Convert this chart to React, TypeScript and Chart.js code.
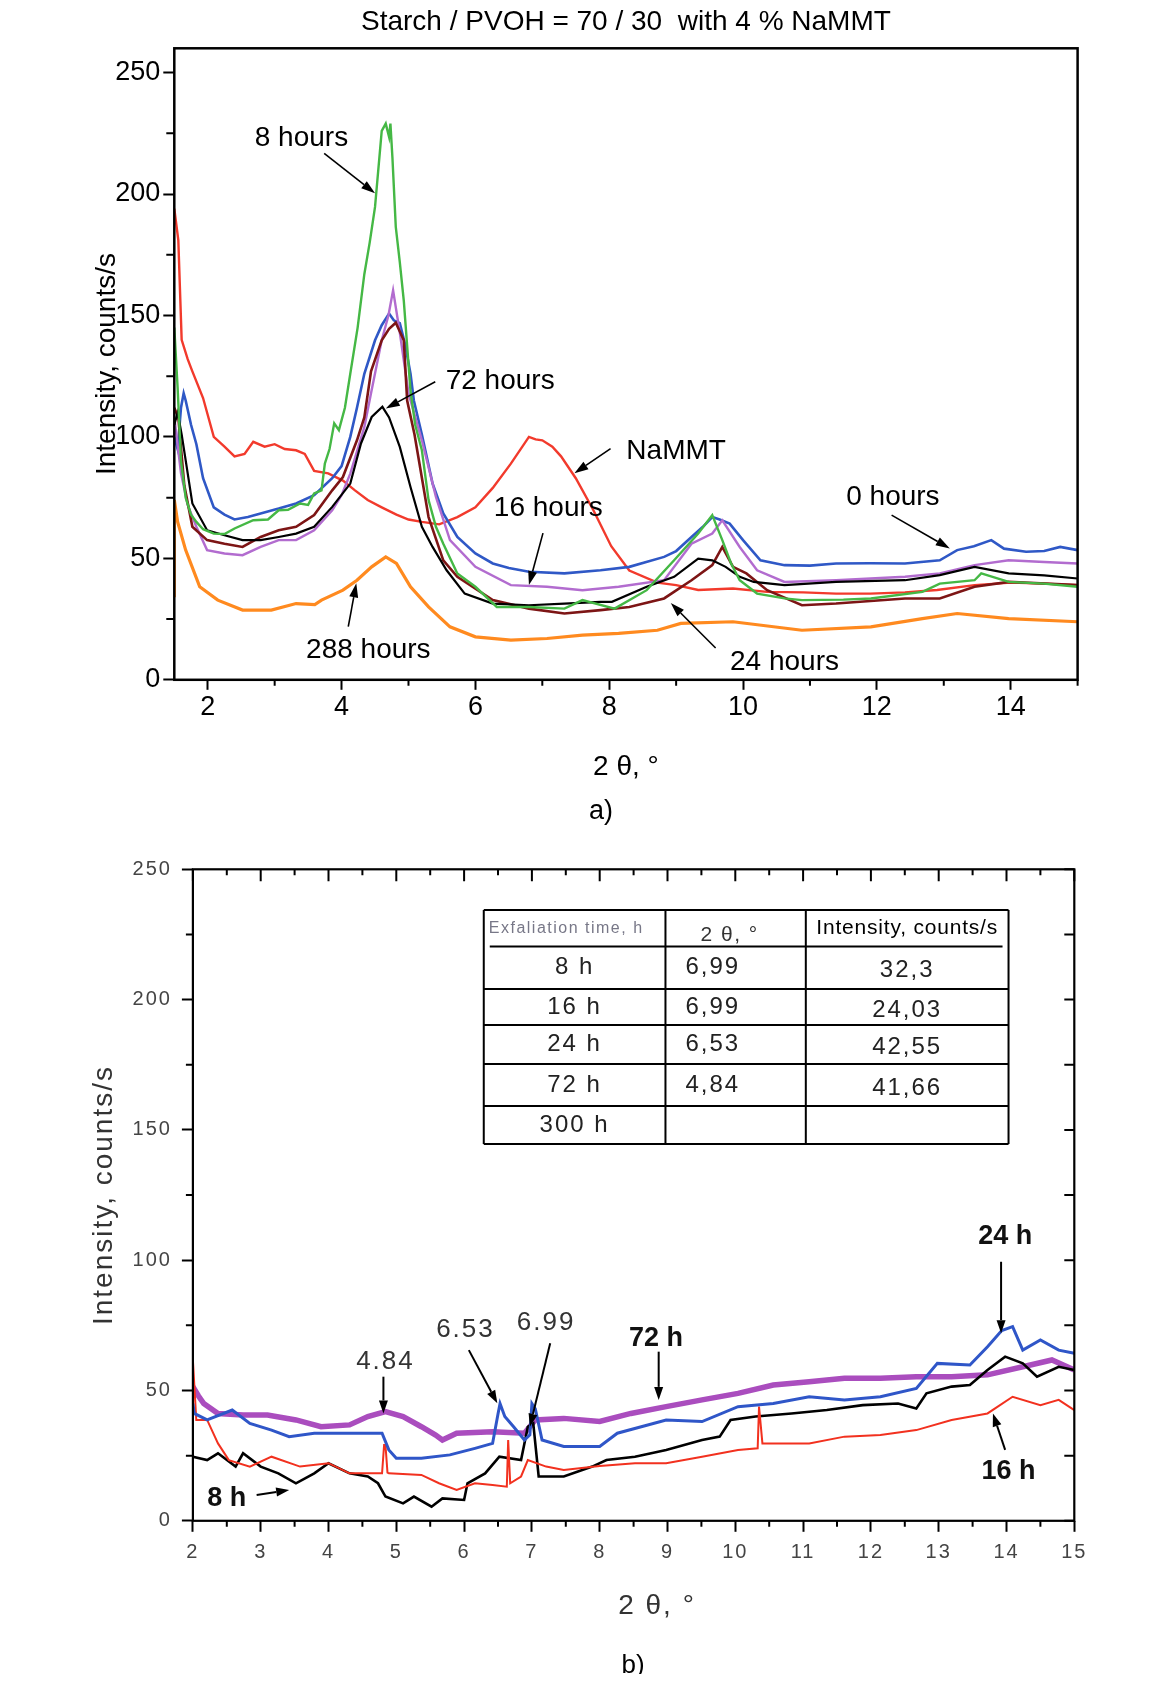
import React, { useEffect, useRef } from "react";
import { Chart, registerables } from "chart.js";

Chart.register(...registerables);

const FONT = "'Liberation Sans', Arial, Helvetica, sans-serif";

/* ---------------- Panel a data ---------------- */
const aTitle = "Starch / PVOH = 70 / 30  with 4 % NaMMT";
const aXTicks = [2, 4, 6, 8, 10, 12, 14];
const aYTicks = [0, 50, 100, 150, 200, 250];
const aXMinor = [3, 5, 7, 9, 11, 13, 15];
const aYMinor = [25, 75, 125, 175, 225];

const aNaMMTx = [1.5, 1.56, 1.61, 1.7, 1.77, 1.93, 2.09, 2.25, 2.4, 2.55, 2.68, 2.85, 3.0, 3.15, 3.32, 3.45, 3.59, 3.8, 4.02, 4.2, 4.39, 4.6, 4.82, 5.0, 5.2, 5.46, 5.73, 6.0, 6.26, 6.53, 6.8, 6.9, 7.0, 7.15, 7.28, 7.5, 7.76, 8.03, 8.3, 8.72, 9.0, 9.33, 9.85, 10.36, 10.9, 11.39, 11.9, 12.42, 12.9, 13.46, 14.0, 14.49, 15.0];
const aNaMMTy = [194, 181, 140, 132, 127, 116, 100, 96, 92, 93, 98, 96, 97, 95, 94.5, 93, 86, 85, 82, 78, 74, 71, 68, 66, 65, 64, 67, 71, 79, 89, 100, 99, 98.6, 96, 92, 83, 70, 55, 45, 40, 39, 37, 37.6, 36.2, 36, 35.5, 35.5, 36, 37, 39, 40, 39.6, 39];

const a0hx = [1.5, 1.55, 1.6, 1.64, 1.67, 1.75, 1.83, 1.93, 2.09, 2.25, 2.4, 2.6, 2.79, 3.06, 3.32, 3.59, 3.86, 4.0, 4.13, 4.23, 4.34, 4.5, 4.6, 4.71, 4.78, 4.87, 4.95, 5.03, 5.08, 5.2, 5.36, 5.52, 5.73, 6.0, 6.26, 6.5, 6.8, 7.33, 7.87, 8.3, 8.82, 9.0, 9.23, 9.4, 9.54, 9.65, 9.8, 10.0, 10.26, 10.62, 11.0, 11.39, 11.9, 12.42, 12.94, 13.2, 13.45, 13.71, 13.9, 14.23, 14.5, 14.74, 15.0];
const a0hy = [100, 95, 112, 118, 115, 105, 97, 83, 71, 68, 66, 67, 68.5, 70.5, 72.6, 76, 83, 88, 100, 112, 126, 139.8, 146, 150.8, 148, 146.8, 138, 126, 115, 101, 80.8, 68.5, 58.8, 52, 47.9, 46, 44.5, 43.8, 45.1, 46.5, 50.6, 53, 58.8, 63, 67, 66, 64.3, 57.5, 49.2, 47.2, 47, 47.9, 48, 47.9, 49.2, 53.4, 55, 57.5, 54, 52.7, 53, 54.7, 53.4];

const a8hx = [1.5, 1.55, 1.6, 1.67, 1.75, 1.83, 1.93, 2.09, 2.25, 2.4, 2.68, 2.9, 3.06, 3.2, 3.38, 3.5, 3.59, 3.7, 3.75, 3.82, 3.89, 3.96, 4.05, 4.13, 4.24, 4.34, 4.42, 4.5, 4.6, 4.66, 4.71, 4.73, 4.76, 4.81, 4.87, 4.93, 5.03, 5.1, 5.2, 5.3, 5.41, 5.52, 5.73, 6.0, 6.32, 6.8, 7.33, 7.6, 8.08, 8.56, 8.97, 9.33, 9.54, 9.69, 9.82, 9.95, 10.21, 10.62, 10.88, 11.5, 11.91, 12.68, 12.94, 13.46, 13.56, 13.97, 14.49, 15.0];
const a8hy = [145, 120, 90, 75, 68, 65, 62, 60.2, 60, 62.3, 65.7, 66, 69.8, 70, 72.6, 72, 76.7, 78, 89, 95, 105.6, 102.8, 112, 126, 145, 167, 180, 194.7, 226, 229, 223.5, 229, 215, 186.5, 172, 156, 119, 105, 94.5, 74, 63, 56, 43.8, 38.3, 30, 30, 29.3, 32.8, 29.3, 36.9, 49.2, 60.2, 67.8, 57.5, 48, 41, 35.5, 33.5, 32.8, 33, 33.5, 36.2, 39.6, 41, 43.8, 40.3, 39.6, 38.3];

const a16hx = [1.5, 1.6, 1.7, 1.83, 1.99, 2.25, 2.52, 2.79, 3.06, 3.32, 3.59, 3.86, 4.0, 4.13, 4.34, 4.44, 4.6, 4.7, 4.77, 4.87, 5.0, 5.2, 5.41, 5.62, 6.0, 6.53, 7.07, 7.6, 8.14, 8.82, 9.23, 9.54, 9.69, 9.95, 10.21, 10.62, 11.39, 12.42, 12.94, 13.46, 13.97, 14.5, 15.0];
const a16hy = [108, 85, 72, 63, 53.4, 52, 51.3, 54.7, 57.5, 57.5, 61.6, 69.8, 76, 84.9, 104, 118, 139.8, 150, 160.4, 143, 118, 98.6, 75.3, 57.5, 46.5, 39, 38.3, 36.9, 38.3, 41, 56, 60.2, 65.7, 54.7, 45.1, 40.3, 41, 42.4, 43.8, 47.2, 49.2, 48.5, 47.9];

const a24hx = [1.5, 1.56, 1.65, 1.77, 1.99, 2.25, 2.52, 2.79, 3.06, 3.32, 3.59, 3.86, 4.02, 4.23, 4.34, 4.44, 4.6, 4.71, 4.81, 4.93, 4.98, 5.09, 5.3, 5.52, 5.73, 6.26, 6.8, 7.33, 7.87, 8.3, 8.82, 9.23, 9.54, 9.69, 9.85, 10.05, 10.36, 10.88, 11.39, 12.42, 12.94, 13.46, 13.97, 15.0];
const a24hy = [112, 108, 80, 63, 57.5, 56, 54.7, 58.8, 61.6, 63, 67.8, 78, 83.5, 98.6, 108, 127, 139.8, 144.5, 147, 139.8, 115, 101, 67, 49.2, 42.4, 32.8, 29.3, 27.3, 28.7, 30, 33.5, 41, 47.2, 54.7, 46.5, 43.8, 36.9, 30.7, 31.4, 33.5, 33.5, 38.3, 40.3, 39];

const a72hx = [1.5, 1.55, 1.61, 1.77, 1.99, 2.25, 2.52, 2.79, 3.06, 3.32, 3.59, 3.86, 4.13, 4.29, 4.45, 4.61, 4.71, 4.87, 5.03, 5.2, 5.36, 5.57, 5.84, 6.26, 6.8, 7.33, 7.87, 8.04, 8.56, 8.97, 9.33, 9.54, 9.74, 9.95, 10.16, 10.62, 11.39, 12.42, 12.94, 13.46, 13.97, 14.5, 15.0];
const a72hy = [105, 110, 101, 72.6, 61.6, 59.5, 57.5, 57.5, 58.8, 60.2, 63, 71.2, 80.8, 97.3, 108.2, 112.4, 108, 95.9, 79.4, 63, 54.7, 45.1, 35.5, 31.4, 30.7, 31.4, 32.1, 32.1, 38.3, 42.4, 49.9, 49.2, 46.5, 42.4, 40.3, 39, 40.3, 41, 43.1, 46.5, 43.8, 43, 41.7];

const a288hx = [1.5, 1.5, 1.55, 1.67, 1.88, 2.15, 2.52, 2.95, 3.32, 3.6, 3.7, 4.02, 4.23, 4.45, 4.66, 4.82, 5.03, 5.3, 5.62, 6.0, 6.53, 7.07, 7.6, 8.14, 8.72, 9.07, 9.85, 10.88, 11.91, 12.68, 13.2, 13.97, 15.0];
const a288hy = [34, 74, 65, 53.4, 38.3, 32.8, 28.7, 28.7, 31.4, 31, 32.8, 36.9, 41, 46.5, 50.6, 47.9, 38.3, 30, 21.8, 17.7, 16.3, 17, 18.4, 19.1, 20.4, 23.2, 23.9, 20.4, 21.8, 25.2, 27.3, 25.2, 23.9];

const aNotes = [
  { text: "8 hours", tx: 3.4, ty: 222.8, x1: 3.74, y1: 216.7, x2: 4.5, y2: 200.3 },
  { text: "72 hours", tx: 6.37, ty: 122.7, x1: 5.4, y1: 122.7, x2: 4.66, y2: 111.7 },
  { text: "NaMMT", tx: 9.0, ty: 93.9, x1: 8.02, y1: 95.2, x2: 7.48, y2: 85 },
  { text: "16 hours", tx: 7.09, ty: 70.6, x1: 7.01, y1: 60.4, x2: 6.8, y2: 39 },
  { text: "0 hours", tx: 12.24, ty: 75.3, x1: 12.22, y1: 67.8, x2: 13.09, y2: 54.1 },
  { text: "24 hours", tx: 10.62, ty: 7.4, x1: 9.59, y1: 13.1, x2: 8.92, y2: 31.6 },
  { text: "288 hours", tx: 4.4, ty: 12.3, x1: 4.1, y1: 21.9, x2: 4.22, y2: 39.7 },
];

/* ---------------- Panel b data ---------------- */
const bXTicks = [2, 3, 4, 5, 6, 7, 8, 9, 10, 11, 12, 13, 14, 15];
const bYTicks = [0, 50, 100, 150, 200, 250];
const bXMinor = [2.5, 3.5, 4.5, 5.5, 6.5, 7.5, 8.5, 9.5, 10.5, 11.5, 12.5, 13.5, 14.5];
const bYMinor = [25, 75, 125, 175, 225];

const b72hx = [2.0, 2.08, 2.16, 2.37, 2.74, 3.1, 3.52, 3.89, 4.31, 4.58, 4.84, 5.1, 5.37, 5.58, 5.68, 5.89, 6.42, 6.89, 7.05, 7.47, 8.0, 8.46, 8.98, 9.51, 10.04, 10.56, 11.09, 11.61, 12.14, 12.67, 13.19, 13.72, 14.24, 14.67, 15.0];
const b72hy = [51.5, 48, 45, 41.2, 40.6, 40.6, 38.7, 36.1, 36.8, 40, 41.9, 40, 36.1, 32.9, 31, 33.6, 34.2, 33.6, 38.7, 39.3, 38.1, 41.2, 43.8, 46.4, 48.9, 52.1, 53.4, 54.7, 54.7, 55.3, 55.3, 56, 59.1, 61.7, 57.9];

const b24hx = [2.0, 2.02, 2.21, 2.58, 2.84, 3.16, 3.42, 3.79, 4.21, 4.58, 4.79, 4.89, 5.0, 5.37, 5.79, 6.16, 6.42, 6.5, 6.53, 6.6, 6.73, 6.89, 6.97, 7.0, 7.05, 7.15, 7.47, 8.0, 8.26, 8.98, 9.51, 10.04, 10.56, 11.09, 11.61, 12.14, 12.67, 12.98, 13.46, 13.72, 13.93, 14.09, 14.24, 14.5, 14.77, 15.0];
const b24hy = [45, 41.2, 38.7, 42.5, 37.4, 34.8, 32.3, 33.6, 33.6, 33.6, 33.6, 27.2, 24, 24, 25.3, 27.8, 29.7, 41, 45, 40, 36.1, 31, 33, 45, 43, 31, 28.5, 28.5, 33.6, 38.7, 38.1, 43.8, 45, 47.6, 46.4, 47.6, 50.8, 60.4, 59.8, 66.8, 73, 74.5, 65.5, 69.4, 65.5, 64.3];

const b16hx = [2.0, 2.0, 2.05, 2.21, 2.37, 2.53, 2.84, 3.16, 3.58, 4.0, 4.31, 4.79, 4.82, 4.84, 4.87, 4.89, 5.37, 5.63, 5.89, 6.16, 6.42, 6.63, 6.65, 6.68, 6.84, 6.94, 7.21, 7.47, 8.0, 8.52, 8.98, 9.51, 10.04, 10.33, 10.35, 10.4, 11.09, 11.61, 12.14, 12.67, 13.19, 13.72, 14.09, 14.5, 14.77, 15.0];
const b16hy = [40, 61.7, 38.7, 38.7, 29.7, 23.3, 20.8, 24.6, 20.8, 22.1, 18.2, 18.2, 29.1, 29.1, 18.5, 18.2, 17.6, 14.4, 11.8, 14.4, 13.7, 13.1, 31, 14.4, 17, 23.3, 20.8, 19.5, 21, 22.1, 22.1, 24.6, 27.2, 27.8, 43.8, 29.7, 29.7, 32.3, 32.9, 34.8, 38.7, 41.2, 47.6, 44.4, 46.4, 42.5];

const b8hx = [2.0, 2.21, 2.37, 2.63, 2.74, 3.0, 3.26, 3.52, 3.79, 4.0, 4.31, 4.58, 4.73, 4.84, 5.1, 5.26, 5.52, 5.68, 6.0, 6.05, 6.31, 6.52, 6.84, 6.94, 7.02, 7.1, 7.47, 7.89, 8.1, 8.52, 8.98, 9.51, 9.77, 9.93, 10.3, 10.83, 11.35, 11.88, 12.4, 12.67, 12.82, 13.19, 13.46, 13.72, 13.98, 14.24, 14.45, 14.77, 15.0];
const b8hy = [24.6, 23.3, 25.9, 20.8, 25.9, 20.8, 18.2, 14.4, 18.2, 22.1, 18.2, 17, 14.4, 9.3, 6.7, 9.3, 5.4, 8.6, 8, 14.4, 18.2, 24.6, 23.3, 36.1, 37.4, 17, 17, 20.8, 23.3, 24.6, 27.2, 31, 32.3, 38.7, 40, 41.2, 42.5, 44.4, 45, 43.1, 48.9, 51.5, 52.1, 57.9, 63, 60.4, 55.3, 59.1, 57.9];

const bNotes = [
  { text: "4.84", bold: false, tx: 4.84, ty: 61, x1: 4.81, y1: 55.3, x2: 4.81, y2: 41.2 },
  { text: "6.53", bold: false, tx: 6.02, ty: 73.2, x1: 6.07, y1: 65.5, x2: 6.49, y2: 45.1 },
  { text: "6.99", bold: false, tx: 7.21, ty: 75.8, x1: 7.27, y1: 68.1, x2: 6.97, y2: 36.1 },
  { text: "72 h", bold: true, tx: 8.83, ty: 70, x1: 8.87, y1: 64.9, x2: 8.87, y2: 46.4 },
  { text: "24 h", bold: true, tx: 13.98, ty: 109, x1: 13.92, y1: 99.4, x2: 13.92, y2: 72 },
  { text: "16 h", bold: true, tx: 14.03, ty: 18.8, x1: 13.98, y1: 27.2, x2: 13.8, y2: 41.2 },
  { text: "8 h", bold: true, tx: 2.5, ty: 8.6, x1: 2.94, y1: 9.9, x2: 3.42, y2: 11.8 },
];

const tHeader = ["Exfaliation time, h", "2 θ, °", "Intensity, counts/s"];
const tTime = ["8 h", "16 h", "24 h", "72 h", "300 h"];
const tAngle = ["6,99", "6,99", "6,53", "4,84", ""];
const tIntensity = ["32,3", "24,03", "42,55", "41,66", ""];

/* ---------------- helpers ---------------- */
const pts = (xs: number[], ys: number[]) => xs.map((x, i) => ({ x, y: ys[i] }));

function drawArrow(ctx: CanvasRenderingContext2D, x1: number, y1: number, x2: number, y2: number, head: number, width: number, lw: number, color: string) {
  const ang = Math.atan2(y2 - y1, x2 - x1);
  const bx = x2 - head * Math.cos(ang);
  const by = y2 - head * Math.sin(ang);
  ctx.save();
  ctx.strokeStyle = color;
  ctx.fillStyle = color;
  ctx.lineWidth = lw;
  ctx.beginPath();
  ctx.moveTo(x1, y1);
  ctx.lineTo(bx, by);
  ctx.stroke();
  ctx.beginPath();
  ctx.moveTo(x2, y2);
  ctx.lineTo(bx + (width / 2) * Math.sin(ang), by - (width / 2) * Math.cos(ang));
  ctx.lineTo(bx - (width / 2) * Math.sin(ang), by + (width / 2) * Math.cos(ang));
  ctx.closePath();
  ctx.fill();
  ctx.restore();
}

function ticksX(ctx: CanvasRenderingContext2D, sx: any, vals: number[], yBase: number, len: number, lw: number) {
  ctx.beginPath();
  ctx.lineWidth = lw;
  vals.forEach((v) => {
    const px = sx.getPixelForValue(v);
    ctx.moveTo(px, yBase);
    ctx.lineTo(px, yBase + len);
  });
  ctx.stroke();
}
function ticksY(ctx: CanvasRenderingContext2D, sy: any, vals: number[], xBase: number, len: number, lw: number) {
  ctx.beginPath();
  ctx.lineWidth = lw;
  vals.forEach((v) => {
    const py = sy.getPixelForValue(v);
    ctx.moveTo(xBase, py);
    ctx.lineTo(xBase + len, py);
  });
  ctx.stroke();
}

const mk = (label: string, xs: number[], ys: number[], color: string, w: number) => ({
  label,
  data: pts(xs, ys),
  borderColor: color,
  backgroundColor: color,
  borderWidth: w,
  pointRadius: 0,
  tension: 0,
  fill: false,
});

/* ---------------- Panel a ---------------- */
function PanelA() {
  const ref = useRef<HTMLCanvasElement | null>(null);
  useEffect(() => {
    if (!ref.current) return;
    const decor = {
      id: "decorA",
      afterDraw(chart: any) {
        const { ctx, chartArea: ca, scales } = chart;
        const sx = scales.x;
        const sy = scales.y;
        ctx.save();
        ctx.strokeStyle = "#000";
        ctx.lineWidth = 2.5;
        ctx.strokeRect(ca.left, ca.top, ca.right - ca.left, ca.bottom - ca.top);
        ticksX(ctx, sx, aXMinor, ca.bottom, 6, 2);
        ticksY(ctx, sy, aYMinor, ca.left, -8, 2);
        ctx.fillStyle = "#000";
        ctx.textAlign = "center";
        ctx.textBaseline = "middle";
        ctx.font = `28px ${FONT}`;
        ctx.fillText(aTitle, (ca.left + ca.right) / 2, 22);
        ctx.font = `27px ${FONT}`;
        ctx.fillText("a)", 601, 812);
        ctx.font = `28px ${FONT}`;
        aNotes.forEach((n) => {
          ctx.fillText(n.text, sx.getPixelForValue(n.tx), sy.getPixelForValue(n.ty));
          drawArrow(ctx, sx.getPixelForValue(n.x1), sy.getPixelForValue(n.y1), sx.getPixelForValue(n.x2), sy.getPixelForValue(n.y2), 14, 9, 1.6, "#000");
        });
        ctx.restore();
      },
    };
    const chart = new Chart(ref.current, {
      type: "line",
      data: {
        datasets: [
          mk("8 hours", a8hx, a8hy, "#45b845", 2.4),
          mk("72 hours", a72hx, a72hy, "#000000", 2.2),
          mk("24 hours", a24hx, a24hy, "#7d1515", 2.6),
          mk("16 hours", a16hx, a16hy, "#b26ccf", 2.4),
          mk("0 hours", a0hx, a0hy, "#2f58c6", 2.6),
          mk("NaMMT", aNaMMTx, aNaMMTy, "#f23a2c", 2.4),
          mk("288 hours", a288hx, a288hy, "#ff8a1f", 3.2),
        ],
      },
      options: {
        responsive: false,
        animation: false,
        events: [],
        layout: { padding: { top: 48.3, left: 80, right: 86.4, bottom: 30.2 } },
        plugins: { legend: { display: false }, tooltip: { enabled: false }, title: { display: false } },
        scales: {
          x: {
            type: "linear",
            min: 1.5,
            max: 15,
            afterBuildTicks: (s: any) => {
              s.ticks = aXTicks.map((v) => ({ value: v }));
            },
            afterFit: (s: any) => {
              s.height = 130;
            },
            border: { display: false },
            grid: { drawOnChartArea: false, drawTicks: true, tickLength: 10, tickWidth: 2, tickColor: "#000" },
            ticks: { font: { family: FONT, size: 27 }, color: "#000", padding: 2, maxRotation: 0, autoSkip: false },
            title: { display: true, text: "2 θ, °", font: { family: FONT, size: 28 }, color: "#000", padding: { top: 0, bottom: 26 } },
          },
          y: {
            type: "linear",
            min: 0,
            max: 260,
            afterBuildTicks: (s: any) => {
              s.ticks = aYTicks.map((v) => ({ value: v }));
            },
            afterFit: (s: any) => {
              s.width = 94.3;
            },
            border: { display: false },
            grid: { drawOnChartArea: false, drawTicks: true, tickLength: 11, tickWidth: 2, tickColor: "#000" },
            ticks: { font: { family: FONT, size: 27 }, color: "#000", padding: 3 },
            title: { display: true, text: "Intensity, counts/s", font: { family: FONT, size: 28 }, color: "#000", padding: { top: 10.2, bottom: 0 } },
          },
        },
      },
      plugins: [decor],
    } as any);
    return () => chart.destroy();
  }, []);
  return <canvas ref={ref} width={1164} height={840} style={{ position: "absolute", left: 0, top: 0, display: "block" }} />;
}

/* ---------------- Panel b ---------------- */
function PanelB() {
  const ref = useRef<HTMLCanvasElement | null>(null);
  useEffect(() => {
    if (!ref.current) return;
    const decor = {
      id: "decorB",
      beforeDraw(chart: any) {
        (chart.ctx as any).letterSpacing = "2px";
      },
      afterDraw(chart: any) {
        const { ctx, chartArea: ca, scales } = chart;
        const sx = scales.x;
        const sy = scales.y;
        const X = (v: number) => sx.getPixelForValue(v);
        const Y = (v: number) => sy.getPixelForValue(v);
        ctx.save();
        ctx.strokeStyle = "#000";
        ctx.lineWidth = 2.2;
        ctx.strokeRect(ca.left, ca.top, ca.right - ca.left, ca.bottom - ca.top);
        ticksX(ctx, sx, bXMinor, ca.bottom, 6, 2);
        ticksX(ctx, sx, bXTicks, ca.top, 12, 2);
        ticksX(ctx, sx, bXMinor, ca.top, 6, 2);
        ticksY(ctx, sy, bYMinor, ca.left, -7, 2);
        ticksY(ctx, sy, bYTicks, ca.right, -10, 2);
        ticksY(ctx, sy, bYMinor, ca.right, -10, 2);

        // table
        const tl = X(6.29), c1 = X(8.97), c2 = X(11.04), tr = X(14.03);
        const rows = [234.4, 220.4, 204.1, 190.3, 175.3, 159.2, 144.6].map(Y);
        ctx.lineWidth = 2;
        ctx.beginPath();
        rows.forEach((ry, i) => {
          const inset = i === 1 ? 6 : 0;
          ctx.moveTo(tl + inset, ry);
          ctx.lineTo(tr - inset, ry);
        });
        [tl, c1, c2, tr].forEach((cx) => {
          ctx.moveTo(cx, rows[0]);
          ctx.lineTo(cx, rows[6]);
        });
        ctx.stroke();
        ctx.textBaseline = "middle";
        const hy = (rows[0] + rows[1]) / 2;
        (ctx as any).letterSpacing = "1.5px";
        ctx.textAlign = "left";
        ctx.font = `16px ${FONT}`;
        ctx.fillStyle = "#777787";
        ctx.fillText(tHeader[0], tl + 5, hy);
        ctx.textAlign = "center";
        ctx.font = `21px ${FONT}`;
        ctx.fillStyle = "#333";
        ctx.fillText(tHeader[1], (c1 + c2) / 2 - 6, hy + 7);
        (ctx as any).letterSpacing = "0.8px";
        ctx.font = `21px ${FONT}`;
        ctx.fillStyle = "#000";
        ctx.fillText(tHeader[2], (c2 + tr) / 2, hy);
        (ctx as any).letterSpacing = "2px";
        ctx.font = `24px ${FONT}`;
        ctx.fillStyle = "#222";
        for (let i = 0; i < tTime.length; i++) {
          const cy = (rows[i + 1] + rows[i + 2]) / 2;
          ctx.textAlign = "center";
          ctx.fillText(tTime[i], (tl + c1) / 2, cy);
          ctx.textAlign = "left";
          ctx.fillText(tAngle[i], c1 + 20, cy);
          ctx.textAlign = "center";
          ctx.fillText(tIntensity[i], (c2 + tr) / 2, cy + 3);
        }

        // annotations
        bNotes.forEach((n) => {
          ctx.textAlign = "center";
          if (n.bold) {
            (ctx as any).letterSpacing = "0px";
            ctx.font = `bold 27px ${FONT}`;
            ctx.fillStyle = "#111";
          } else {
            (ctx as any).letterSpacing = "2px";
            ctx.font = `26px ${FONT}`;
            ctx.fillStyle = "#333";
          }
          ctx.fillText(n.text, X(n.tx), Y(n.ty));
          drawArrow(ctx, X(n.x1), Y(n.y1), X(n.x2), Y(n.y2), 13, 9, 2, "#000");
        });
        // x-axis title and panel label
        (ctx as any).letterSpacing = "2px";
        ctx.fillStyle = "#333";
        ctx.textAlign = "center";
        ctx.font = `28px ${FONT}`;
        ctx.fillText("2 θ, °", 657, 766);
        (ctx as any).letterSpacing = "0px";
        ctx.fillStyle = "#000";
        ctx.font = `26px ${FONT}`;
        ctx.fillText("b)", 633, 826);
        ctx.restore();
        (ctx as any).letterSpacing = "0px";
      },
    };
    const chart = new Chart(ref.current, {
      type: "line",
      data: {
        datasets: [
          mk("24 h", b24hx, b24hy, "#2f56c8", 3),
          mk("16 h", b16hx, b16hy, "#f2311f", 2),
          mk("8 h", b8hx, b8hy, "#000000", 2.6),
          mk("72 h", b72hx, b72hy, "#aa4dbe", 5.5),
        ],
      },
      options: {
        responsive: false,
        animation: false,
        events: [],
        layout: { padding: { top: 29.3, left: 80, right: 89.7, bottom: 31.2 } },
        plugins: { legend: { display: false }, tooltip: { enabled: false }, title: { display: false } },
        scales: {
          x: {
            type: "linear",
            min: 2,
            max: 15,
            afterBuildTicks: (s: any) => {
              s.ticks = bXTicks.map((v) => ({ value: v }));
            },
            afterFit: (s: any) => {
              s.height = 130;
            },
            border: { display: false },
            grid: { drawOnChartArea: false, drawTicks: true, tickLength: 11, tickWidth: 2, tickColor: "#000" },
            ticks: { font: { family: FONT, size: 20 }, color: "#444", padding: 9, maxRotation: 0, autoSkip: false },
            title: { display: false, text: "2 θ, °" },
          },
          y: {
            type: "linear",
            min: 0,
            max: 250,
            afterBuildTicks: (s: any) => {
              s.ticks = bYTicks.map((v) => ({ value: v }));
            },
            afterFit: (s: any) => {
              s.width = 112.9;
            },
            border: { display: false },
            grid: { drawOnChartArea: false, drawTicks: true, tickLength: 11, tickWidth: 2, tickColor: "#000" },
            ticks: { font: { family: FONT, size: 20 }, color: "#444", padding: 10 },
            title: { display: true, text: "Intensity, counts/s", font: { family: FONT, size: 28 }, color: "#333", padding: { top: 7.2, bottom: 0 } },
          },
        },
      },
      plugins: [decor],
    } as any);
    return () => chart.destroy();
  }, []);
  return <canvas ref={ref} width={1164} height={842} style={{ position: "absolute", left: 0, top: 840, display: "block" }} />;
}

export default function App() {
  return (
    <div style={{ position: "relative", width: 1164, height: 1682, margin: -8, background: "#fff", overflow: "hidden" }}>
      <PanelA />
      <PanelB />
    </div>
  );
}
